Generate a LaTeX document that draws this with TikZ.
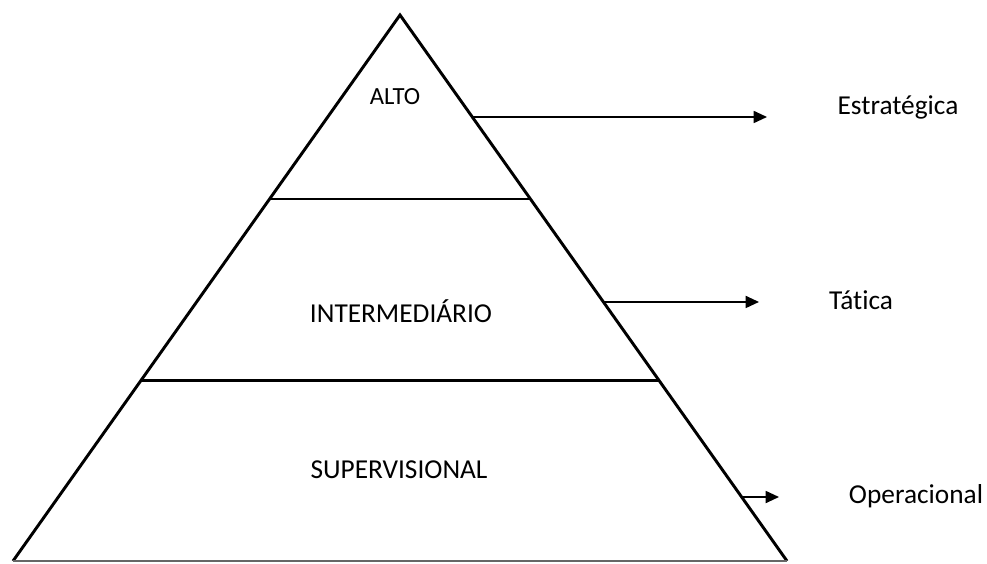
\documentclass[tikz,border=0pt]{standalone}
\usepackage{fontspec}
\setmainfont[RawFeature={-liga;-clig;-calt;-dlig}]{Carlito}
\usetikzlibrary{arrows.meta, positioning, calc}

\begin{document}
\begin{tikzpicture}[
  x=0.75pt, y=-0.75pt,
  edge/.style={line width=2.2pt, line join=miter},
  level/.style={line width=2.2pt},
  pointer/.style={line width=1.3pt, -{Triangle[length=10pt, width=9pt]}},
  label/.style={font=\fontsize{20.5}{24}\selectfont, inner sep=0pt},
  side/.style={font=\fontsize{20.5}{24}\selectfont, inner sep=0pt},
]
  \useasboundingbox (0,0) rectangle (987,563);

  % Pyramid corners
  \coordinate (apex) at (400,15);
  \coordinate (left) at (13,561);
  \coordinate (right) at (787,561);
  \draw[edge] (left) -- (apex) -- (right);
  \draw[line width=1.2pt, black!60] (left) -- (right);

  % Level dividers
  \coordinate (L1) at ($(apex)!0.337!(left)$);
  \coordinate (R1) at ($(apex)!0.337!(right)$);
  \coordinate (L2) at ($(apex)!0.670!(left)$);
  \coordinate (R2) at ($(apex)!0.670!(right)$);
  \draw[level] (L1) -- (R1);
  \draw[level] (L2) -- (R2);

  % Level names
  \node[label, font=\fontsize{18.5}{22}\selectfont] (alto) at (395,97) {ALTO};
  \node[label] (inter) at (401,311) {INTERMEDIÁRIO};
  \node[label] (super) at (399,470) {SUPERVISIONAL};

  % Decision types
  \node[side] (estr) at (898,107) {Estratégica};
  \node[side] (tat) at (861,300) {Tática};
  \node[side] (oper) at (916,496) {Operacional};

  % Arrows from the edge
  \coordinate (s1) at ($(apex)!0.1868!(right)$);
  \coordinate (s2) at ($(apex)!0.5256!(right)$);
  \coordinate (s3) at ($(apex)!0.8828!(right)$);
  \coordinate (e1) at (767,117);
  \coordinate (e2) at (759,302);
  \coordinate (e3) at (779,497);
  \draw[pointer] (s1) -- (s1 -| e1);
  \draw[pointer] (s2) -- (s2 -| e2);
  \draw[pointer] (s3) -- (s3 -| e3);
\end{tikzpicture}
\end{document}
